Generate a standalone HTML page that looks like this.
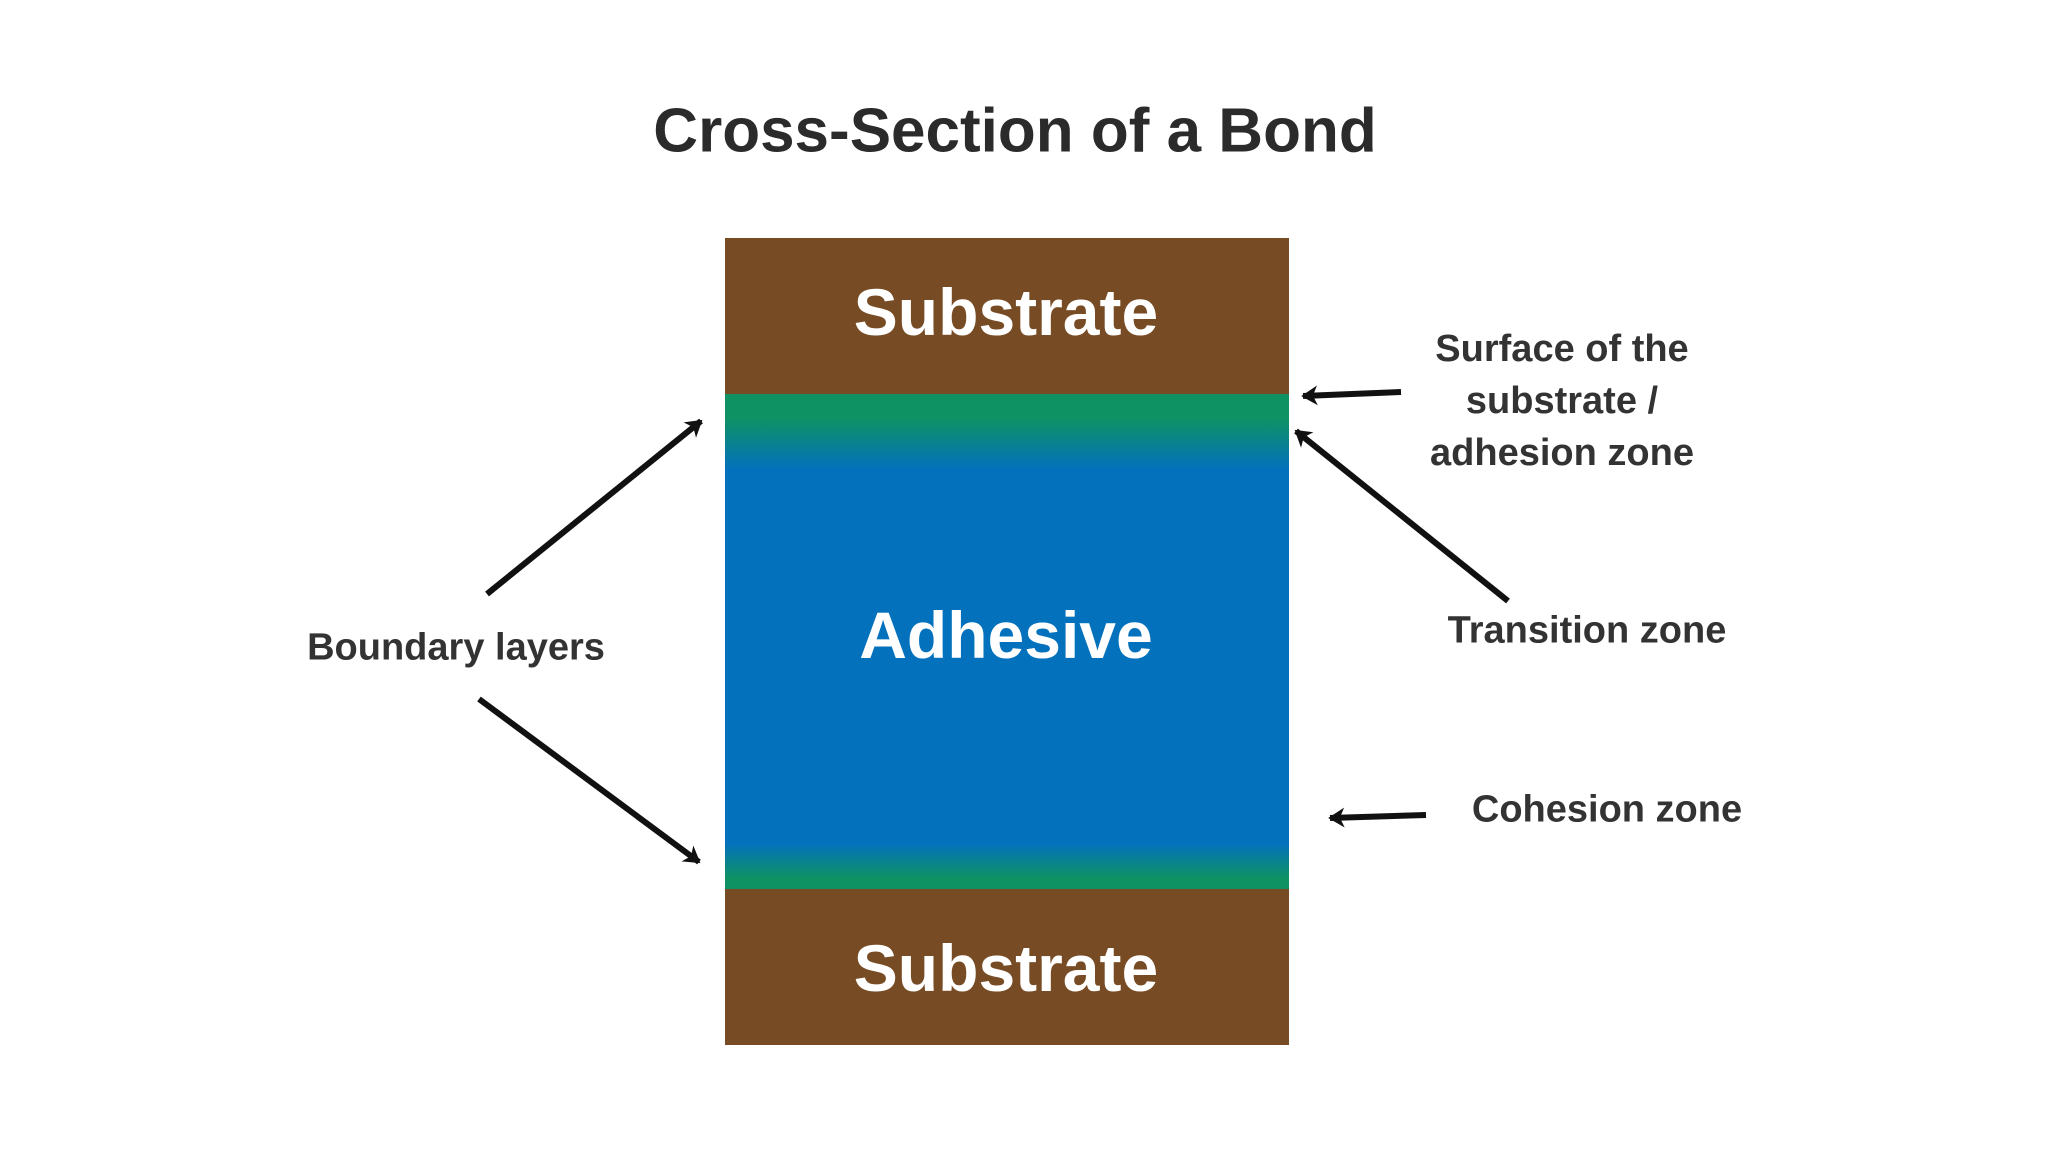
<!DOCTYPE html>
<html><head><meta charset="utf-8"><style>
html,body{margin:0;padding:0;background:#fff;}
body{width:2048px;height:1152px;position:relative;overflow:hidden;font-family:"Liberation Sans",sans-serif;}
.t{position:absolute;font-weight:bold;white-space:nowrap;transform:translate(-50%,-50%);}
</style></head><body>
<div class="t" style="left:1015px;top:131px;font-size:62px;color:#2b2b2b;">Cross-Section of a Bond</div>
<div style="position:absolute;left:725px;top:238px;width:564px;height:807px;background:linear-gradient(to bottom,#774b24 0px,#774b24 156px,#0e9264 156px,#0e9264 180px,#0471bd 232px,#0471bd 605px,#0e9264 640px,#0e9264 651px,#774b24 651px,#774b24 807px);"></div>
<div class="t" style="left:1006px;top:312px;font-size:66px;color:#fff;">Substrate</div>
<div class="t" style="left:1006px;top:968px;font-size:66px;color:#fff;">Substrate</div>
<div class="t" style="left:1006px;top:635px;font-size:66px;color:#fff;">Adhesive</div>
<div class="t" style="left:456px;top:648px;font-size:38px;color:#333;">Boundary layers</div>
<div class="t" style="left:1562px;top:401px;font-size:38px;color:#333;text-align:center;line-height:52px;">Surface of the<br>substrate /<br>adhesion zone</div>
<div class="t" style="left:1587px;top:631px;font-size:38px;color:#333;">Transition zone</div>
<div class="t" style="left:1607px;top:810px;font-size:38px;color:#333;">Cohesion zone</div>
<svg width="2048" height="1152" style="position:absolute;left:0;top:0">
<defs><marker id="a" viewBox="0 0 20 20" refX="18" refY="10" markerWidth="9" markerHeight="9" orient="auto" markerUnits="userSpaceOnUse" style="overflow:visible">
<path d="M-14,-12 L22,10 L-14,32 L-4,10 Z" fill="#111" transform="scale(1)"/></marker></defs>
<g stroke="#111" stroke-width="6" fill="none" marker-end="url(#a)">
<line x1="487" y1="594" x2="701" y2="421"/>
<line x1="479" y1="699" x2="699" y2="862"/>
<line x1="1401" y1="392" x2="1303" y2="396"/>
<line x1="1508" y1="601" x2="1296" y2="431"/>
<line x1="1426" y1="815" x2="1330" y2="818"/>
</g></svg>
</body></html>
